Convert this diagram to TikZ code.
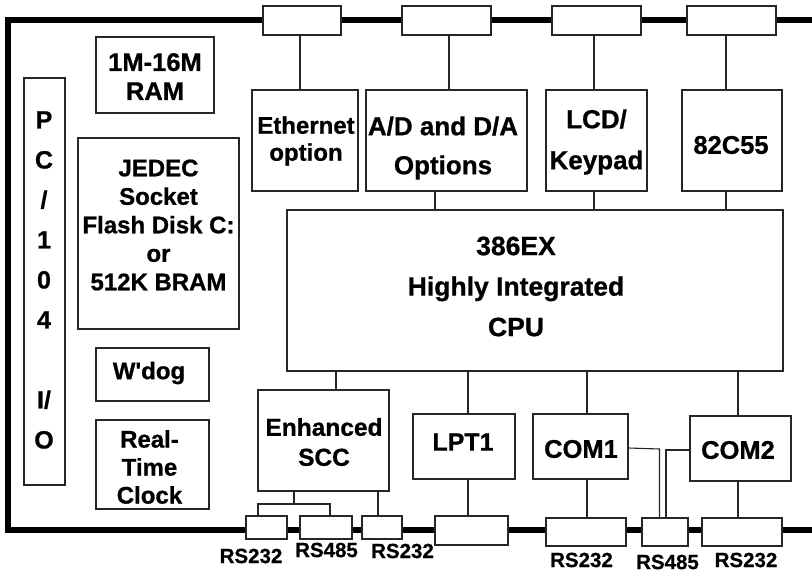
\documentclass[tikz,border=0pt]{standalone}
\usepackage{fontspec}
\newfontfamily\wide{Liberation Sans}[FakeBold=0.8]
\newfontfamily\plain{Liberation Sans}[FakeBold=0.6]
\begin{document}
\begin{tikzpicture}[x=1pt,y=-1pt,
  box/.style={draw=black!85,line width=1.1pt,inner sep=0pt,fill=white},
  ln/.style={draw=black!85,line width=1.1pt},
  board/.style={line width=5.5pt},
  txt/.style 2 args={font=\wide\bfseries\fontsize{#1}{#2}\selectfont,align=center,inner sep=0pt},
  lab/.style={font=\plain\bfseries\fontsize{20.5}{24}\selectfont,inner sep=0pt}]
\useasboundingbox (0,0) rectangle (812,573);
% board edge
\coordinate (bTR) at (812,20);
\coordinate (bTL) at (8,20);
\coordinate (bBL) at (8,530);
\coordinate (bBR) at (812,530);
\draw[board] (bTR) -- (bTL) -- (bBL) -- (bBR);
% top connectors
\node[box,minimum width=78pt,minimum height=29pt] (t1) at (302,20.5) {};
\node[box,minimum width=89pt,minimum height=29pt] (t2) at (446.5,20.5) {};
\node[box,minimum width=89pt,minimum height=29pt] (t3) at (596.5,20.5) {};
\node[box,minimum width=89pt,minimum height=29pt] (t4) at (731.5,20.5) {};
% bottom connectors
\node[box,minimum width=41pt,minimum height=23pt] (b1) at (266.5,527.5) {};
\node[box,minimum width=52pt,minimum height=23pt] (b2) at (326,527.5) {};
\node[box,minimum width=40pt,minimum height=23pt] (b3) at (382,527.5) {};
\node[box,minimum width=73pt,minimum height=29pt] (b4) at (471.5,530.5) {};
\node[box,minimum width=80pt,minimum height=28pt] (b5) at (586,532) {};
\node[box,minimum width=46pt,minimum height=28pt] (b6) at (665,532) {};
\node[box,minimum width=80pt,minimum height=28pt] (b7) at (742,532) {};
% blocks
\node[box,minimum width=118pt,minimum height=76pt] (ram) at (155,75) {};
\node[box,minimum width=41pt,minimum height=407pt] (pc) at (44.5,281.5) {};
\node[box,minimum width=161pt,minimum height=191pt] (jedec) at (158.5,233.5) {};
\node[box,minimum width=113pt,minimum height=53pt] (wdog) at (152.5,374.5) {};
\node[box,minimum width=113pt,minimum height=89pt] (rtc) at (152.5,464.5) {};
\node[box,minimum width=106pt,minimum height=101pt] (eth) at (305,140.5) {};
\node[box,minimum width=161pt,minimum height=101pt] (adda) at (446.5,140.5) {};
\node[box,minimum width=101pt,minimum height=101pt] (lcd) at (596.5,140.5) {};
\node[box,minimum width=100pt,minimum height=101pt] (ppi) at (732,140.5) {};
\node[box,minimum width=496pt,minimum height=161pt] (cpu) at (535,290.5) {};
\node[box,minimum width=131pt,minimum height=101pt] (scc) at (323.5,440.5) {};
\node[box,minimum width=102pt,minimum height=65pt] (lpt) at (464,446.5) {};
\node[box,minimum width=95pt,minimum height=65pt] (com1) at (580.5,446.5) {};
\node[box,minimum width=101pt,minimum height=65pt] (com2) at (740.5,448.5) {};
% texts
\node[txt={25.5}{29}] (ramt) at (155,76.5) {1M-16M\\RAM};
\node[txt={25}{40}] (pct) at (44,280) {P\\C\\/\\1\\0\\4\\[40pt]I/\\O};
\node[txt={24}{28.5}] (jedect) at (158.5,225) {JEDEC\\Socket\\Flash Disk C:\\or\\512K BRAM};
\node[txt={24}{28}] (wdogt) at (149,373) {W\textquotesingle dog};
\node[txt={24}{28}] (rtct) at (149.5,467) {Real-\\Time\\Clock};
\node[txt={24}{27}] (etht) at (306,141) {Ethernet\\option};
\node[txt={26}{39}] (addat) at (443,148) {A/D and D/A\\Options};
\node[txt={26}{41}] (lcdt) at (596.5,142) {LCD/\\Keypad};
\node[txt={25.5}{28}] (ppit) at (731,145) {82C55};
\node[txt={26.5}{40.5}] (cput) at (516,286.5) {386EX\\Highly Integrated\\CPU};
\node[txt={24.5}{30}] (scct) at (324,442) {Enhanced\\SCC};
\node[txt={25}{28}] (lptt) at (463,442) {LPT1};
\node[txt={25.5}{28}] (com1t) at (581,449) {COM1};
\node[txt={25.5}{28}] (com2t) at (738,450) {COM2};
% port labels
\node[lab] (l1) at (251,556) {RS232};
\node[lab] (l2) at (326.5,550) {RS485};
\node[lab] (l3) at (402.5,551) {RS232};
\node[lab] (l5) at (581.5,560) {RS232};
\node[lab] (l6) at (667.5,562) {RS485};
\node[lab] (l7) at (746,560) {RS232};
% connections top
\draw[ln] (t1.south -| 300,0) -- (eth.north -| 300,0);
\draw[ln] (t2.south -| 449,0) -- (adda.north -| 449,0);
\draw[ln] (t3.south -| 594,0) -- (lcd.north -| 594,0);
\draw[ln] (t4.south -| 726,0) -- (ppi.north -| 726,0);
\draw[ln] (adda.south -| 435,0) -- (cpu.north -| 435,0);
\draw[ln] (lcd.south -| 594,0) -- (cpu.north -| 594,0);
\draw[ln] (ppi.south -| 726,0) -- (cpu.north -| 726,0);
% connections bottom
\draw[ln] (cpu.south -| 336,0) -- (scc.north -| 336,0);
\draw[ln] (cpu.south -| 468,0) -- (lpt.north -| 468,0);
\draw[ln] (lpt.south -| 468,0) -- (b4.north -| 468,0);
\draw[ln] (cpu.south -| 587,0) -- (com1.north -| 587,0);
\draw[ln] (com1.south -| 587,0) -- (b5.north -| 587,0);
\draw[ln] (cpu.south -| 738,0) -- (com2.north -| 738,0);
\draw[ln] (com2.south -| 738,0) -- (b7.north -| 738,0);
\coordinate (s0) at (294,504);
\coordinate (s1) at (258,504);
\coordinate (s2) at (330,504);
\draw[ln] (scc.south -| s0) -- (s0);
\draw[ln] (b1.north -| s1) -- (s1) -- (s2) -- (b2.north -| s2);
\draw[ln] (scc.south -| 378,0) -- (b3.north -| 378,0);
\coordinate (c1) at (659.5,449);
\coordinate (c2) at (666,450);
\draw[ln] (com1.east |- 0,448) -- (c1) -- (b6.north -| c1);
\draw[ln] (com2.west |- c2) -- (c2) -- (b6.north -| c2);
\end{tikzpicture}
\end{document}
